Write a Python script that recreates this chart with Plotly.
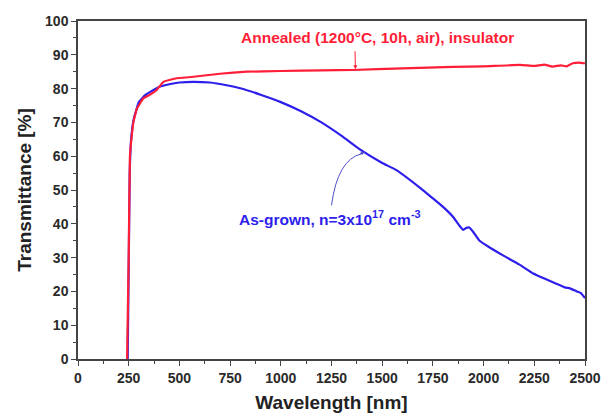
import plotly.graph_objects as go

# Transmittance spectra of the two samples
as_grown_nm = [245, 255, 262, 275, 300, 330, 370, 400, 450, 500, 570, 650, 733, 800,
               900, 1000, 1100, 1200, 1300, 1390, 1500, 1570, 1690, 1750, 1800, 1850,
               1880, 1900, 1915, 1930, 1950, 1980, 2030, 2100, 2175, 2245, 2300, 2350,
               2400, 2426, 2460, 2480, 2500]
as_grown_t = [0, 55, 65, 71, 76, 78, 79.5, 80.5, 81.3, 81.8, 82.0, 81.8, 81.0, 80.1,
              78.2, 76.0, 73.3, 70.0, 66.0, 62.0, 58.0, 55.9, 50.5, 47.5, 45.0, 42.0,
              39.5, 38.2, 38.8, 38.9, 37.5, 35.0, 33.0, 30.5, 28.0, 25.3, 23.8, 22.5,
              21.2, 20.9, 20.0, 19.5, 18.0]

annealed_nm = [242, 250, 256, 265, 273, 290, 322, 350, 388, 421, 480, 569, 700, 832,
               1000, 1200, 1356, 1600, 1850, 2000, 2180, 2250, 2300, 2340, 2380, 2410,
               2440, 2470, 2500]
annealed_t = [0, 30, 60, 66, 70, 74, 77.1, 78.0, 79.6, 82.0, 83.0, 83.5, 84.4, 85.0,
              85.2, 85.4, 85.5, 86.0, 86.4, 86.6, 87.0, 86.7, 87.1, 86.5, 86.9, 86.6,
              87.5, 87.7, 87.5]

x_ticks = [0, 250, 500, 750, 1000, 1250, 1500, 1750, 2000, 2250, 2500]
y_ticks = [0, 10, 20, 30, 40, 50, 60, 70, 80, 90, 100]

RED = "rgb(255,30,55)"
BLUE = "rgb(45,30,235)"
POINTER = "rgb(80,80,200)"
AXIS = "#444444"
FONT = "Liberation Sans, Arial"

fig = go.Figure()
fig.add_trace(go.Scatter(x=as_grown_nm, y=as_grown_t, mode="lines",
                         line=dict(color=BLUE, width=2.2, shape="spline", smoothing=0.3),
                         showlegend=False))
fig.add_trace(go.Scatter(x=annealed_nm, y=annealed_t, mode="lines",
                         line=dict(color=RED, width=2.2, shape="spline", smoothing=0.3),
                         showlegend=False))

tick_font = dict(family=FONT, size=14, color="#2a2a2a", weight="bold")
title_font = dict(family=FONT, size=19, color="#222222", weight="bold")

common = dict(ticks="outside", ticklen=5, tickwidth=1.2, tickcolor=AXIS,
              showline=True, linecolor=AXIS, linewidth=1.5, mirror=True,
              showgrid=False, zeroline=False, tickfont=tick_font, automargin=False)

fig.update_xaxes(range=[0, 2500], tickvals=x_ticks, **common,
                 minor=dict(ticks="outside", ticklen=3, dtick=125, tick0=0,
                            tickcolor=AXIS, showgrid=False),
                 title=dict(text="Wavelength [nm]", font=title_font, standoff=11))
fig.update_yaxes(range=[0, 100], tickvals=y_ticks, **common,
                 minor=dict(ticks="outside", ticklen=3, dtick=5, tick0=0,
                            tickcolor=AXIS, showgrid=False),
                 title=dict(text="Transmittance [%]", font=title_font, standoff=8))

# curved pointer from the as-grown label up to its curve
fig.add_shape(type="path", xref="x", yref="y",
              path="M 1250,45.5 Q 1280,59 1398,60.7",
              line=dict(color=POINTER, width=1))

fig.update_layout(
    width=604, height=414,
    margin=dict(l=78, r=19, t=21, b=55),
    paper_bgcolor="white", plot_bgcolor="white",
    annotations=[
        dict(x=1476, y=95, xref="x", yref="y", showarrow=False,
             text="Annealed (1200°C, 10h, air), insulator",
             font=dict(family=FONT, size=15.5, color=RED, weight="bold")),
        dict(x=1368, y=85.7, xref="x", yref="y", ax=1366, ay=91.5,
             axref="x", ayref="y", text="", showarrow=True, arrowhead=2,
             arrowsize=0.8, arrowwidth=1, arrowcolor=RED),
        dict(x=1243, y=41.7, xref="x", yref="y", showarrow=False,
             text="As-grown, n=3x10<sup>17</sup> cm<sup>-3</sup>",
             font=dict(family=FONT, size=15.5, color=BLUE, weight="bold")),
        dict(x=1414, y=61.3, xref="x", yref="y", ax=1380, ay=60.3,
             axref="x", ayref="y", text="", showarrow=True, arrowhead=2,
             arrowsize=0.8, arrowwidth=1, arrowcolor=POINTER),
    ],
)

fig.write_html("out.html")
